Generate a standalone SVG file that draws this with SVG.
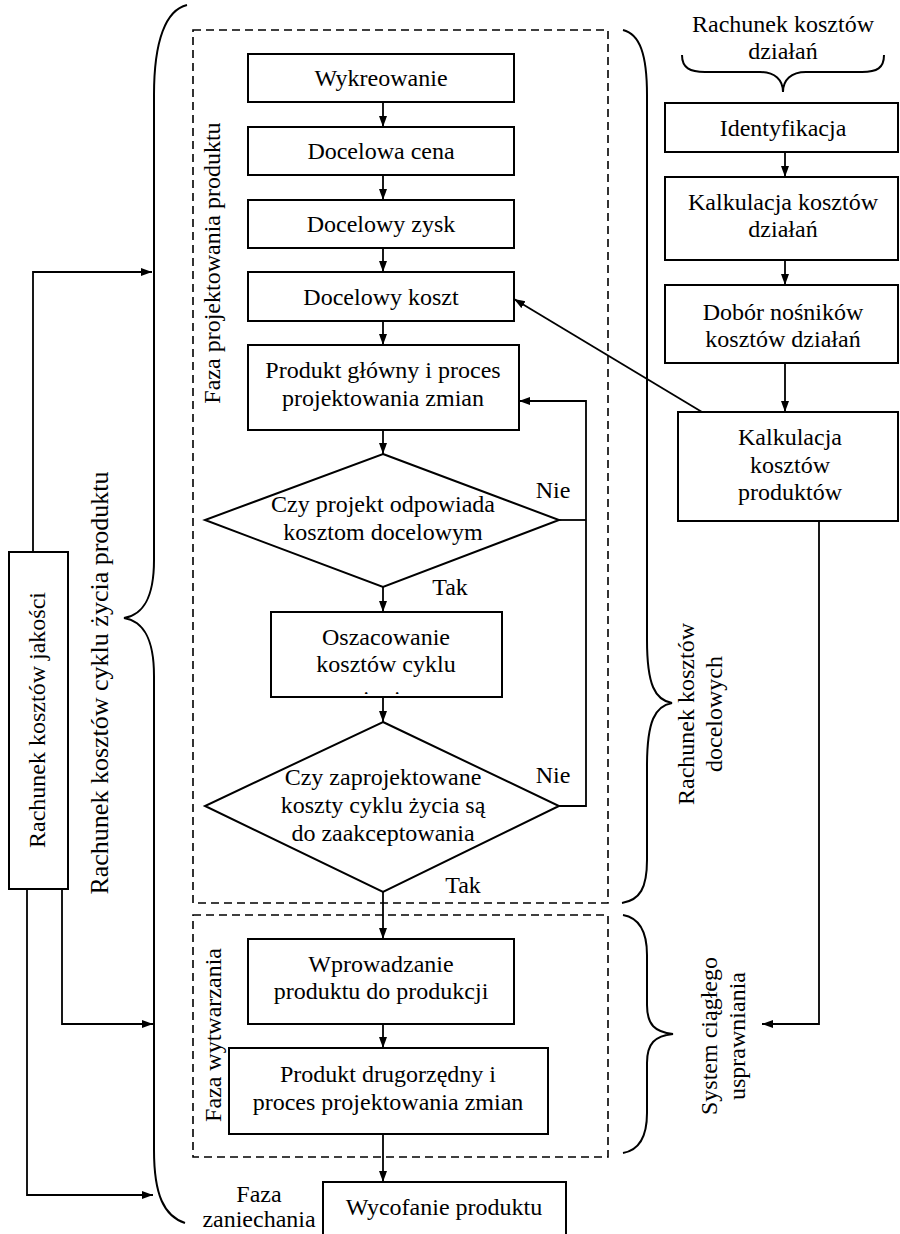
<svg xmlns="http://www.w3.org/2000/svg" width="900" height="1234" viewBox="0 0 900 1234" font-family="'Liberation Serif', 'Times New Roman', 'DejaVu Serif', serif" font-size="24">
<style>
.box{fill:#fff;stroke:#000;stroke-width:2}
.dash{fill:none;stroke:#000;stroke-width:1.6;stroke-dasharray:8 5}
.ln{fill:none;stroke:#000;stroke-width:1.8}
.br{fill:none;stroke:#000;stroke-width:2}
.c{text-anchor:middle;fill:#000}
</style>
<defs>
<marker id="ah" markerWidth="12" markerHeight="10" refX="11" refY="4.5" orient="auto" markerUnits="userSpaceOnUse">
<path d="M0,0.5 L11,4.5 L0,8.5 z" fill="#000"/>
</marker>
<clipPath id="oszClip"><rect x="272" y="613" width="229" height="81"/></clipPath>
</defs>
<rect width="900" height="1234" fill="#fff"/>

<g id="phases">
<rect class="dash" x="193" y="30" width="415" height="873"/>
<rect class="dash" x="193" y="915" width="415" height="242"/>
<text class="c" transform="translate(212,263) rotate(-90)" x="0" y="8">Faza projektowania produktu</text>
<text class="c" transform="translate(213,1035) rotate(-90)" x="0" y="8">Faza wytwarzania</text>
<text class="c" x="259" y="1202">Faza</text>
<text class="c" x="259" y="1227">zaniechania</text>
</g>

<g id="braces">
<path class="br" d="M187,5 C166,10 154,40 154,95 L154,560 C154,600 142,615 124,618 C142,621 154,636 154,676 L154,1150 C154,1195 164,1216 185,1223"/>
<path class="br" d="M623,30 C640,34 647,55 647,95 L647,640 C647,685 655,700 672,703 C655,706 647,721 647,766 L647,860 C647,888 640,900 622,903"/>
<path class="br" d="M623,915 C640,918 647,932 647,955 L647,1005 C647,1025 655,1032 673,1034 C655,1036 647,1043 647,1063 L647,1113 C647,1136 640,1150 623,1153"/>
<path class="br" d="M682,55 C682,68 690,72 705,72 L760,72 C775,72 783,80 783,92 C783,80 791,72 806,72 L862,72 C877,72 884,68 884,55"/>
<text class="c" transform="translate(100,683) rotate(-90)" x="0" y="8" font-size="26">Rachunek kosztów cyklu życia produktu</text>
<text class="c" transform="translate(686,714) rotate(-90)" x="0" y="8">Rachunek kosztów</text>
<text class="c" transform="translate(714,714) rotate(-90)" x="0" y="8">docelowych</text>
<text class="c" transform="translate(709,1036) rotate(-90)" x="0" y="8">System ciągłego</text>
<text class="c" transform="translate(737,1036) rotate(-90)" x="0" y="8">usprawniania</text>
<text class="c" x="783" y="32">Rachunek kosztów</text>
<text class="c" x="783" y="59">działań</text>
</g>

<g id="connectors">
<path class="ln" d="M383,102 V127" marker-end="url(#ah)"/>
<path class="ln" d="M383,175 V200" marker-end="url(#ah)"/>
<path class="ln" d="M383,248 V272" marker-end="url(#ah)"/>
<path class="ln" d="M383,321 V345" marker-end="url(#ah)"/>
<path class="ln" d="M383,430 V454" marker-end="url(#ah)"/>
<path class="ln" d="M383,587 V612" marker-end="url(#ah)"/>
<path class="ln" d="M383,697 V722" marker-end="url(#ah)"/>
<path class="ln" d="M383,892 V939" marker-end="url(#ah)"/>
<path class="ln" d="M383,1024 V1048" marker-end="url(#ah)"/>
<path class="ln" d="M383,1134 V1182" marker-end="url(#ah)"/>
<path class="ln" d="M559,520 H586"/>
<path class="ln" d="M559,806 H586 V401 H519" marker-end="url(#ah)"/>
<path class="ln" d="M785,152 V177" marker-end="url(#ah)"/>
<path class="ln" d="M785,260 V285" marker-end="url(#ah)"/>
<path class="ln" d="M785,363 V412" marker-end="url(#ah)"/>
<path class="ln" d="M702,412 L514,299" marker-end="url(#ah)"/>
<path class="ln" d="M819,521 V1024 H762" marker-end="url(#ah)"/>
<path class="ln" d="M33,552 V272 H152" marker-end="url(#ah)"/>
<path class="ln" d="M62,889 V1024 H153" marker-end="url(#ah)"/>
<path class="ln" d="M27,889 V1195 H153" marker-end="url(#ah)"/>
<text class="c" x="553" y="498">Nie</text>
<text class="c" x="450" y="595">Tak</text>
<text class="c" x="553" y="783">Nie</text>
<text class="c" x="463" y="893">Tak</text>
</g>

<g id="n-wykreowanie"><rect class="box" x="248" y="54" width="266" height="48"/><text class="c" x="381" y="86">Wykreowanie</text></g>
<g id="n-cena"><rect class="box" x="248" y="127" width="266" height="48"/><text class="c" x="381" y="159">Docelowa cena</text></g>
<g id="n-zysk"><rect class="box" x="248" y="200" width="266" height="48"/><text class="c" x="381" y="232">Docelowy zysk</text></g>
<g id="n-koszt"><rect class="box" x="248" y="272" width="266" height="49"/><text class="c" x="381" y="305">Docelowy koszt</text></g>
<g id="n-produkt-glowny"><rect class="box" x="248" y="345" width="271" height="85"/><text class="c" x="383" y="378">Produkt główny i proces</text><text class="c" x="383" y="406">projektowania zmian</text></g>
<g id="n-decyzja1"><polygon class="box" points="383,454 559,520 383,587 205,520"/><text class="c" x="383" y="512">Czy projekt odpowiada</text><text class="c" x="383" y="540">kosztom docelowym</text></g>
<g id="n-oszacowanie"><rect class="box" x="271" y="612" width="231" height="85"/><text class="c" x="386" y="645">Oszacowanie</text><text class="c" x="386" y="672">kosztów cyklu</text><text class="c" x="386" y="707" clip-path="url(#oszClip)">życia</text></g>
<g id="n-decyzja2"><polygon class="box" points="383,722 559,806 383,892 205,806"/><text class="c" x="383" y="785">Czy zaprojektowane</text><text class="c" x="383" y="813">koszty cyklu życia są</text><text class="c" x="383" y="841">do zaakceptowania</text></g>
<g id="n-wprowadzanie"><rect class="box" x="248" y="939" width="266" height="85"/><text class="c" x="381" y="972">Wprowadzanie</text><text class="c" x="381" y="999">produktu do produkcji</text></g>
<g id="n-drugorzedny"><rect class="box" x="229" y="1048" width="319" height="86"/><text class="c" x="388" y="1082">Produkt drugorzędny i</text><text class="c" x="388" y="1110">proces projektowania zmian</text></g>
<g id="n-wycofanie"><rect class="box" x="323" y="1182" width="243" height="70"/><text class="c" x="444" y="1215">Wycofanie produktu</text></g>

<g id="n-identyfikacja"><rect class="box" x="665" y="103" width="233" height="49"/><text class="c" x="783" y="136">Identyfikacja</text></g>
<g id="n-kalk-dzialan"><rect class="box" x="665" y="177" width="233" height="83"/><text class="c" x="783" y="210">Kalkulacja kosztów</text><text class="c" x="783" y="237">działań</text></g>
<g id="n-dobor"><rect class="box" x="665" y="285" width="233" height="78"/><text class="c" x="783" y="320">Dobór nośników</text><text class="c" x="783" y="347">kosztów działań</text></g>
<g id="n-kalk-produktow"><rect class="box" x="678" y="412" width="220" height="109"/><text class="c" x="790" y="445">Kalkulacja</text><text class="c" x="790" y="473">kosztów</text><text class="c" x="790" y="500">produktów</text></g>

<g id="n-jakosc"><rect class="box" x="9" y="552" width="59" height="337"/><text class="c" transform="translate(37,720) rotate(-90)" x="0" y="8">Rachunek kosztów jakości</text></g>
</svg>
